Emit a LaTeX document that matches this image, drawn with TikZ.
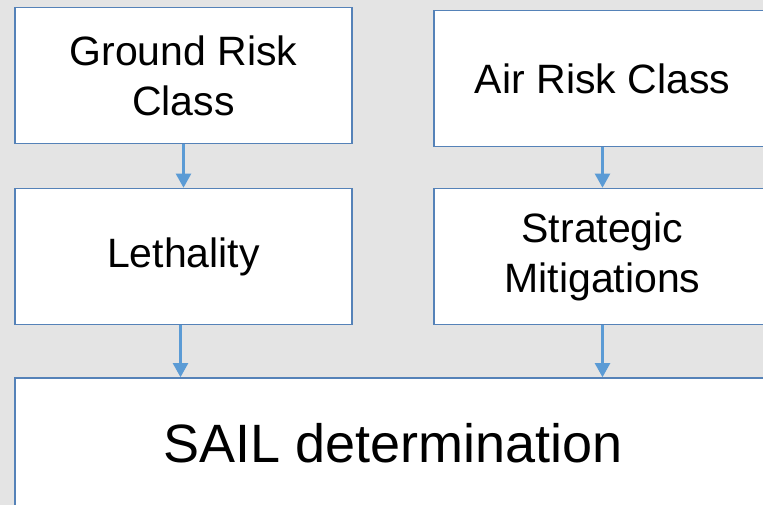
\documentclass[tikz,border=0pt]{standalone}
\usepackage{fontspec}
\setmainfont{Liberation Sans}
\usepackage{tikz}
\usetikzlibrary{arrows.meta}
\definecolor{bgGray}{HTML}{E4E4E4}
\definecolor{boxBlue}{HTML}{5582B8}
\definecolor{arrBlue}{HTML}{5B9BD5}

\begin{document}
\begin{tikzpicture}[x=1pt,y=-1pt,
  riskbox/.style={draw=boxBlue,line width=1.6pt,fill=white,align=center,
    inner sep=0pt,minimum width=337pt,minimum height=136pt,
    font=\fontsize{41}{50}\selectfont},
  flow/.style={draw=arrBlue,line width=2.2pt,
    -{Triangle[width=15pt,length=14pt]}}]
\useasboundingbox (0,0) rectangle (763,505);
\clip (0,0) rectangle (763,505);
\fill[bgGray] (0,0) rectangle (763,505);
% top row
\node[riskbox] at (183.5,75.5) (grc) {Ground Risk\\Class};
\node[riskbox] at (602.5,78.5) (arc) {Air Risk Class};
% middle row
\node[riskbox] at (183.5,256.5) (leth) {Lethality};
\node[riskbox] at (602.5,256.5) (strat) {Strategic\\Mitigations};
% bottom
\node[riskbox,minimum width=756pt,minimum height=130pt,
  font=\fontsize{54}{60}\selectfont] at (393,443) (sail) {SAIL determination};
\draw[flow] (grc) -- (leth);
\draw[flow] (arc) -- (strat);
\draw[flow] ([xshift=-3pt]leth.south) -- ([xshift=-3pt]leth.south |- sail.north);
\draw[flow] (strat.south) -- (strat.south |- sail.north);
\end{tikzpicture}
\end{document}
